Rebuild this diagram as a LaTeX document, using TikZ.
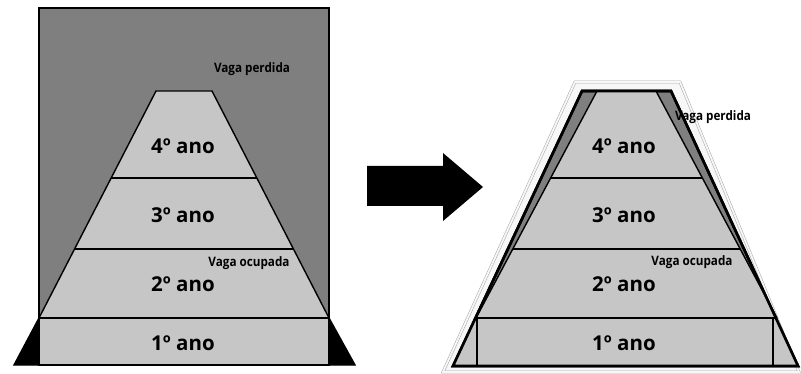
\documentclass[tikz,border=0pt]{standalone}
\usepackage{fontspec}
\setmainfont{Open Sans}
\newfontfamily\narrowfont[FakeStretch=0.9]{Open Sans}
\usetikzlibrary{calc,positioning}
\definecolor{GrayDark}{HTML}{7F7F7F}
\definecolor{GrayLight}{HTML}{C6C6C6}
\definecolor{GrayEdge}{HTML}{A8A8A8}

\begin{document}
\begin{tikzpicture}[x=1pt,y=-1pt,line join=miter,
    year/.style={font=\fontsize{20.5}{20.5}\selectfont\bfseries},
    vaga/.style={font=\narrowfont\fontsize{13}{13}\selectfont\bfseries},
    thin edge/.style={line width=1.4pt},
    thick edge/.style={line width=2.6pt}]
    \useasboundingbox (0,0) rectangle (801,374);
    % before: square frame
    \coordinate (LT) at (156,91);  \coordinate (RT) at (212,91);
    \coordinate (LB) at (39,318);  \coordinate (RB) at (329,318);
    \draw[thin edge, fill=GrayDark] (39,8) rectangle (329,365);
    \draw[thin edge, fill=black] (LB) -- (14,365) -- (39,365) -- cycle;
    \draw[thin edge, fill=black] (RB) -- (355,365) -- (329,365) -- cycle;
    \draw[thin edge, fill=GrayLight] (LT) -- (RT) -- (RB) -- (LB) -- cycle;
    \draw[thin edge, fill=GrayLight] (LB) rectangle (329,365);
    \draw[thin edge] ($(LT)!0.383!(LB)$) -- ($(RT)!0.383!(RB)$);
    \draw[thin edge] ($(LT)!0.696!(LB)$) -- ($(RT)!0.696!(RB)$);
    \node[vaga] (lostL) at (252,69) {Vaga perdida};
    \node[year] (ano4L) at (183,146) {4º ano};
    \node[year] (ano3L) at (183,215) {3º ano};
    \node[vaga] (usedL) at (249,263) {Vaga ocupada};
    \node[year] (ano2L) at (183,284) {2º ano};
    \node[year] (ano1L) at (183,343) {1º ano};
    % arrow
    \fill (367,166) -- (443,166) -- (443,153) -- (483,187) -- (443,221) -- (443,206) -- (367,206) -- cycle;
    % after: trapezoid frame
    \draw[GrayEdge, line width=0.5pt, fill=gray!6, double=gray!6, double distance=1.8pt] (575,82) -- (680,82) -- (799,372) -- (443,372) -- cycle;
    \coordinate (oLT) at (582,91); \coordinate (oRT) at (671,91);
    \coordinate (oLB) at (453,366); \coordinate (oRB) at (798,366);
    \coordinate (iLT) at (597,91); \coordinate (iRT) at (656,91);
    \coordinate (iLB) at (476,318); \coordinate (iRB) at (777,318);
    \draw[thick edge, fill=GrayDark] (oLT) -- (oRT) -- (oRB) -- (oLB) -- cycle;
    \fill[GrayLight] (iLT) -- (iRT) -- (iRB) -- (oRB) -- (oLB) -- (iLB) -- cycle;
    \draw[thin edge] (iLB) -- (iLT) -- (iRT) -- (iRB);
    \draw[thin edge] (iLB) -- (iRB);
    \draw[thin edge] (477,318) -- (477,366);
    \draw[thin edge] (773,318) -- (773,366);
    \draw[thin edge] ($(iLT)!0.383!(iLB)$) -- ($(iRT)!0.383!(iRB)$);
    \draw[thin edge] ($(iLT)!0.696!(iLB)$) -- ($(iRT)!0.696!(iRB)$);
    \draw[thick edge] (oLT) -- (oRT) -- (oRB) -- (oLB) -- cycle;
    \node[vaga] (lostR) at (713,117) {Vaga perdida};
    \node[year] (ano4R) at (624,146) {4º ano};
    \node[year] (ano3R) at (624,215) {3º ano};
    \node[vaga] (usedR) at (692,262) {Vaga ocupada};
    \node[year] (ano2R) at (624,284) {2º ano};
    \node[year] (ano1R) at (624,343) {1º ano};
\end{tikzpicture}
\end{document}
